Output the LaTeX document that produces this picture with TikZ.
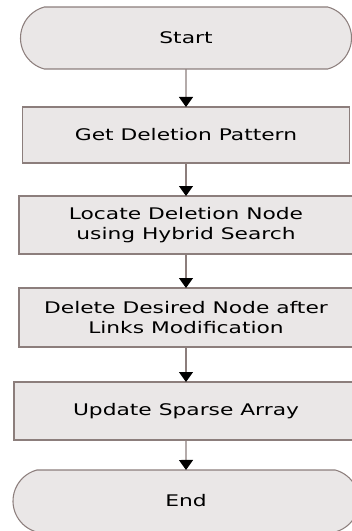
\documentclass[tikz,border=0pt]{standalone}
\usepackage{fontspec}
\setmainfont{DejaVu Sans}[FakeStretch=1.36]
\usepackage{tikz}
\usetikzlibrary{arrows.meta,positioning,shapes.misc}
\definecolor{edge}{HTML}{8C7E7C}
\definecolor{shade}{HTML}{EAE7E7}

\begin{document}
\begin{tikzpicture}[
  node distance=25pt,
  box/.style={draw=edge, line width=0.8pt, fill=shade, align=center, inner sep=0pt, outer sep=0pt, font=\fontsize{12}{15}\selectfont},
  flowstep/.style={box, rectangle, minimum height=43.5pt, minimum width=250.5pt},
  terminal/.style={box, rounded rectangle, rounded rectangle arc length=150, minimum height=46.5pt, minimum width=250pt},
  arr/.style={-{Triangle[width=10.5pt,length=7.5pt,color=black]}, draw=edge, line width=0.8pt}
]
\useasboundingbox (0,0) rectangle (264pt,-398.25pt);
\clip (0,0) rectangle (264pt,-398.25pt);
\node[terminal, minimum width=248.25pt] (start) at (139.5pt,-28.5pt) {Start};
\node[flowstep, below=28.5pt of start, minimum width=245.25pt, minimum height=42pt] (pattern) {Get Deletion Pattern};
\node[flowstep, below=24.75pt of pattern] (locate) {Locate Deletion Node\\using Hybrid Search};
\node[flowstep, below=25.5pt of locate, minimum height=44.25pt] (remove) {Delete Desired Node after\\Links Modification};
\node[flowstep, below=26.25pt of remove, minimum width=258pt] (update) {Update Sparse Array};
\node[terminal, below=22.5pt of update, minimum width=259.5pt] (finish) {End};
\draw[arr] (start) -- (pattern);
\draw[arr] (pattern) -- (locate);
\draw[arr] (locate) -- (remove);
\draw[arr] (remove) -- (update);
\draw[arr] (update) -- (finish);
\end{tikzpicture}
\end{document}
